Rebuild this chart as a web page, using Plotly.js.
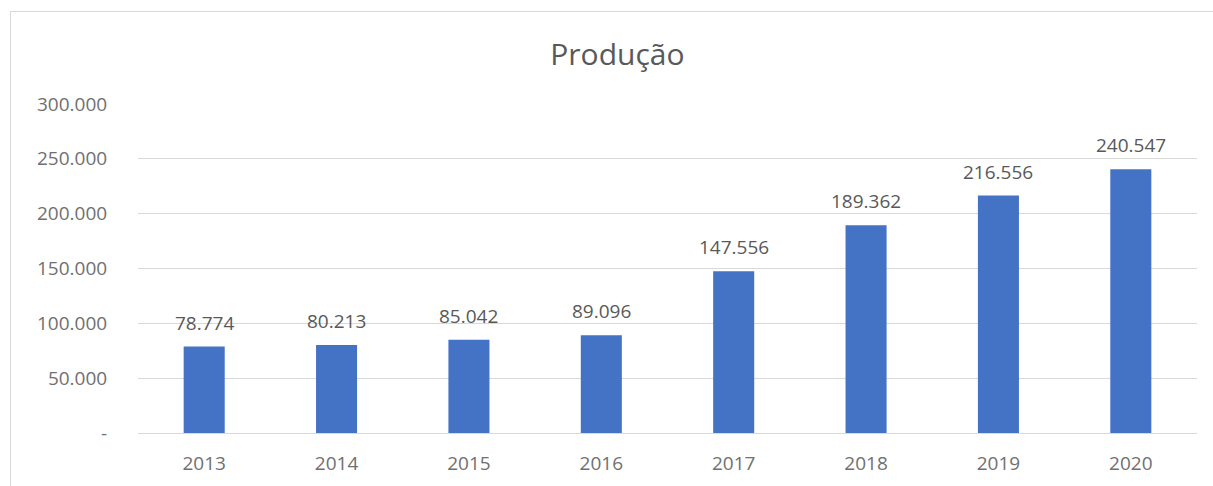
<!DOCTYPE html>
<html>
<head>
<meta charset="utf-8">
<script src="https://cdn.plot.ly/plotly-3.0.1.min.js"></script>
<style>
  html, body { margin: 0; padding: 0; background: #ffffff; }
  #chart { position: absolute; left: 0; top: 0; width: 1213px; height: 486px; }
  #frame { position: absolute; left: 10px; top: 11px; width: 1300px; height: 600px;
           border-top: 1px solid #d9d9d9; border-left: 1px solid #d9d9d9; pointer-events: none; }
</style>
</head>
<body>
<div id="chart"></div>
<div id="frame"></div>
<script>
const years = ['2013', '2014', '2015', '2016', '2017', '2018', '2019', '2020'];
const producao = [78774, 80213, 85042, 89096, 147556, 189362, 216556, 240547];
const valueLabels = ['78.774', '80.213', '85.042', '89.096', '147.556', '189.362', '216.556', '240.547'];
const yTickVals = [0, 50000, 100000, 150000, 200000, 250000, 300000];
const yTickText = ['-', '50.000', '100.000', '150.000', '200.000', '250.000', '300.000'];

const FONT = '"Open Sans", "Noto Sans", sans-serif';

const trace = {
  type: 'bar',
  x: years,
  y: producao,
  marker: { color: '#4472C4' },
  hoverinfo: 'skip'
};

// annotation x given as category index (string years would be read as numbers)
const annotations = years.map((yr, i) => ({
  x: i, y: producao[i], xref: 'x', yref: 'y',
  text: valueLabels[i], showarrow: false,
  yanchor: 'middle', yshift: 24,
  font: { family: FONT, size: 19, color: '#595959' }
}));

const layout = {
  width: 1213, height: 486,
  margin: { l: 138, r: 16, t: 104, b: 53 },
  paper_bgcolor: '#ffffff', plot_bgcolor: '#ffffff',
  showlegend: false,
  bargap: 0.69,
  title: {
    text: 'Produção',
    x: 0.509, xanchor: 'center',
    y: 0.887, yanchor: 'middle',
    font: { family: FONT, size: 30, color: '#595959' }
  },
  xaxis: {
    type: 'category',
    range: [-0.5, years.length - 0.5],
    autorange: false,
    showgrid: false, zeroline: false, showline: false,
    ticks: 'outside', ticklen: 13, tickcolor: 'rgba(0,0,0,0)',
    tickfont: { family: FONT, size: 19, color: '#707070' }
  },
  yaxis: {
    range: [0, 300000],
    autorange: false,
    tickvals: yTickVals, ticktext: yTickText,
    showgrid: true, gridcolor: '#d9d9d9', gridwidth: 1,
    zeroline: true, zerolinecolor: '#d9d9d9', zerolinewidth: 1,
    showline: false,
    ticks: 'outside', ticklen: 26, tickcolor: 'rgba(0,0,0,0)',
    tickfont: { family: FONT, size: 19, color: '#707070' }
  },
  annotations: annotations
};

Plotly.newPlot('chart', [trace], layout, { displayModeBar: false, staticPlot: true });
</script>
</body>
</html>
